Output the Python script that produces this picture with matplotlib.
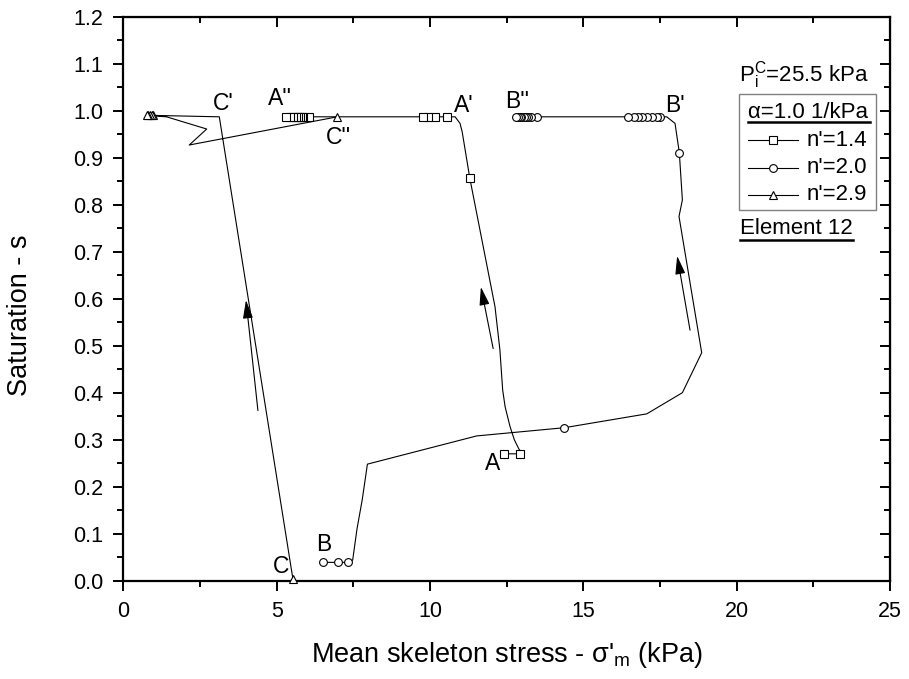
import numpy as np
import matplotlib
matplotlib.use('Agg')
import matplotlib.pyplot as plt
from matplotlib import rcParams
from matplotlib.patches import Rectangle
from matplotlib.lines import Line2D

rcParams['font.family'] = 'Liberation Sans'
rcParams['mathtext.fontset'] = 'custom'
rcParams['mathtext.rm'] = 'Liberation Sans'
rcParams['mathtext.it'] = 'Liberation Sans:italic'
rcParams['mathtext.bf'] = 'Liberation Sans:bold'

# n'=1.4 : A -> A' -> A''
x_a = [12.41, 12.93, 13.02, 12.90, 12.75, 12.61, 12.45, 12.37, 12.28, 12.12,
       11.30, 11.05, 10.98, 10.82, 10.54, 10.16, 9.94, 9.76, 6.07, 5.87,
       5.82, 5.76, 5.71, 5.63, 5.54, 5.44, 5.29]
y_a = [0.270, 0.270, 0.270, 0.280, 0.300, 0.328, 0.370, 0.406, 0.491, 0.583,
       0.856, 0.955, 0.973] + [0.987] * 14
mark_a = [0, 1, 10] + list(range(14, 27))

# n'=2.0 : B -> B' -> B''
x_b = [6.50, 6.99, 7.34, 7.48, 7.62, 7.79, 7.96, 11.52, 14.38, 17.07,
       18.23, 18.86, 18.12, 18.23, 18.13, 17.99, 17.72, 17.50, 17.39, 17.23,
       17.07, 16.92, 16.79, 16.65, 16.47, 13.48, 13.30, 13.20, 13.12, 13.05,
       12.98, 12.92, 12.86, 12.80]
y_b = [0.039, 0.039, 0.039, 0.044, 0.110, 0.172, 0.248, 0.308, 0.3255, 0.355,
       0.400, 0.485, 0.775, 0.810, 0.911, 0.973] + [0.987] * 18
mark_b = [0, 1, 2, 8, 14] + list(range(17, 34))

# n'=2.9 : C -> C' -> C''
x_c = [5.54, 5.51, 3.13, 0.98, 0.92, 0.87, 0.82, 0.76, 1.41, 2.72, 2.15, 6.98]
y_c = [0.004, 0.012, 0.987, 0.990, 0.990, 0.990, 0.990, 0.990, 0.987, 0.961,
       0.927, 0.987]
mark_c = [0, 3, 4, 5, 6, 7, 11]

series = [
    (x_a, y_a, mark_a, 's', "n'=1.4"),
    (x_b, y_b, mark_b, 'o', "n'=2.0"),
    (x_c, y_c, mark_c, '^', "n'=2.9"),
]

W, H = 909, 679
fig = plt.figure(figsize=(W / 100, H / 100), dpi=100)
ax = fig.add_axes([123.3 / W, 1 - 580.7 / H, 766.7 / W, 564 / H])

ms = {'s': 5.2, 'o': 5.6, '^': 6.0}
for x, y, mk, m, lab in series:
    ax.plot(x, y, color='black', lw=0.8, marker=m, markevery=mk,
            ms=ms[m], mfc='white', mec='black', mew=0.8, clip_on=False,
            zorder=3)

# direction arrows
for (x0, y0), (x1, y1) in [((4.39, 0.362), (4.00, 0.597)),
                           ((12.06, 0.494), (11.66, 0.625)),
                           ((18.48, 0.533), (18.06, 0.691))]:
    ax.annotate('', xy=(x1, y1), xytext=(x0, y0),
                arrowprops=dict(arrowstyle='-|>,head_length=0.8,head_width=0.22',
                                mutation_scale=14, color='black', lw=0.8,
                                shrinkA=0, shrinkB=0))

# point labels
for s, x, y in [("A", 12.05, 0.249), ("A'", 11.11, 1.012), ("A''", 5.11, 1.025),
                ("B", 6.54, 0.076), ("B'", 17.98, 1.011), ("B''", 12.83, 1.019),
                ("C", 5.15, 0.030), ("C'", 3.27, 1.015), ("C''", 7.03, 0.942)]:
    ax.text(x, y, s, fontsize=16.5, ha='center', va='center', zorder=4)

ax.set_xlim(0, 25)
ax.set_ylim(0, 1.2)
ax.set_xticks(np.arange(0, 26, 5))
ax.set_xticks(np.arange(0, 25.1, 2.5), minor=True)
ax.set_yticks(np.arange(0, 1.21, 0.1))
ax.set_yticks(np.arange(0, 1.21, 0.05), minor=True)
ax.set_yticklabels(['%.1f' % v for v in np.arange(0, 1.21, 0.1)])
ax.tick_params(which='both', direction='out', labelsize=15.5, width=1.4, pad=7)
ax.tick_params(which='major', length=7.5)
ax.tick_params(which='minor', length=4)
for sp in ax.spines.values():
    sp.set_linewidth(1.6)

top = ax.secondary_xaxis('top')
top.set_xticks(np.arange(0, 26, 5))
top.set_xticks(np.arange(0, 25.1, 2.5), minor=True)
top.tick_params(which='both', direction='in', labeltop=False, width=1.4)
top.tick_params(which='major', length=7.5)
top.tick_params(which='minor', length=4)
right = ax.secondary_yaxis('right')
right.set_yticks(np.arange(0, 1.21, 0.1))
right.set_yticks(np.arange(0, 1.21, 0.05), minor=True)
right.tick_params(which='both', direction='in', labelright=False, width=1.4)
right.tick_params(which='major', length=7.5)
right.tick_params(which='minor', length=4)

ax.set_xlabel("Mean skeleton stress - σ'$_{\\mathrm{m}}$ (kPa)", fontsize=19.5)
ax.set_ylabel("Saturation - s", fontsize=19.5)
ax.xaxis.set_label_coords(0.5, -0.105)
ax.yaxis.set_label_coords(-0.118, 0.47)


def px(x, y):
    return x / W, 1 - y / H


# key box
fig.text(*px(739.3, 75), "$\\mathrm{P}^{\\mathrm{C}}_{\\mathrm{i}}$=25.5 kPa",
         fontsize=16, ha='left', va='center')
bx0, by0 = px(739, 210)
bx1, by1 = px(875.7, 94.3)
fig.add_artist(Rectangle((bx0, by0), bx1 - bx0, by1 - by0, transform=fig.transFigure,
                         fill=False, edgecolor='#808080', lw=1.0))
fig.text(*px(748.3, 113), "α=1.0 1/kPa", fontsize=16, ha='left', va='center')
fig.add_artist(Line2D([748.3 / W, 870 / W], [1 - 122 / H] * 2, color='black', lw=1.8,
                      transform=fig.transFigure))
for (x, y, mk, m, lab), ry in zip(series, [140, 167.7, 195]):
    fig.add_artist(Line2D([748.3 / W, 798.3 / W], [1 - ry / H] * 2, color='black',
                          lw=0.8, transform=fig.transFigure))
    fig.add_artist(Line2D([773.3 / W], [1 - ry / H], marker=m, ms=ms[m], mfc='white',
                          mec='black', mew=0.8, transform=fig.transFigure))
    fig.text(*px(806.7, ry), lab, fontsize=16, ha='left', va='center')
fig.text(*px(740, 229), "Element 12", fontsize=16, ha='left', va='center')
fig.add_artist(Line2D([740 / W, 853.3 / W], [1 - 239.5 / H] * 2, color='black', lw=1.8,
                      transform=fig.transFigure))

fig.savefig('out.png', dpi=100)
